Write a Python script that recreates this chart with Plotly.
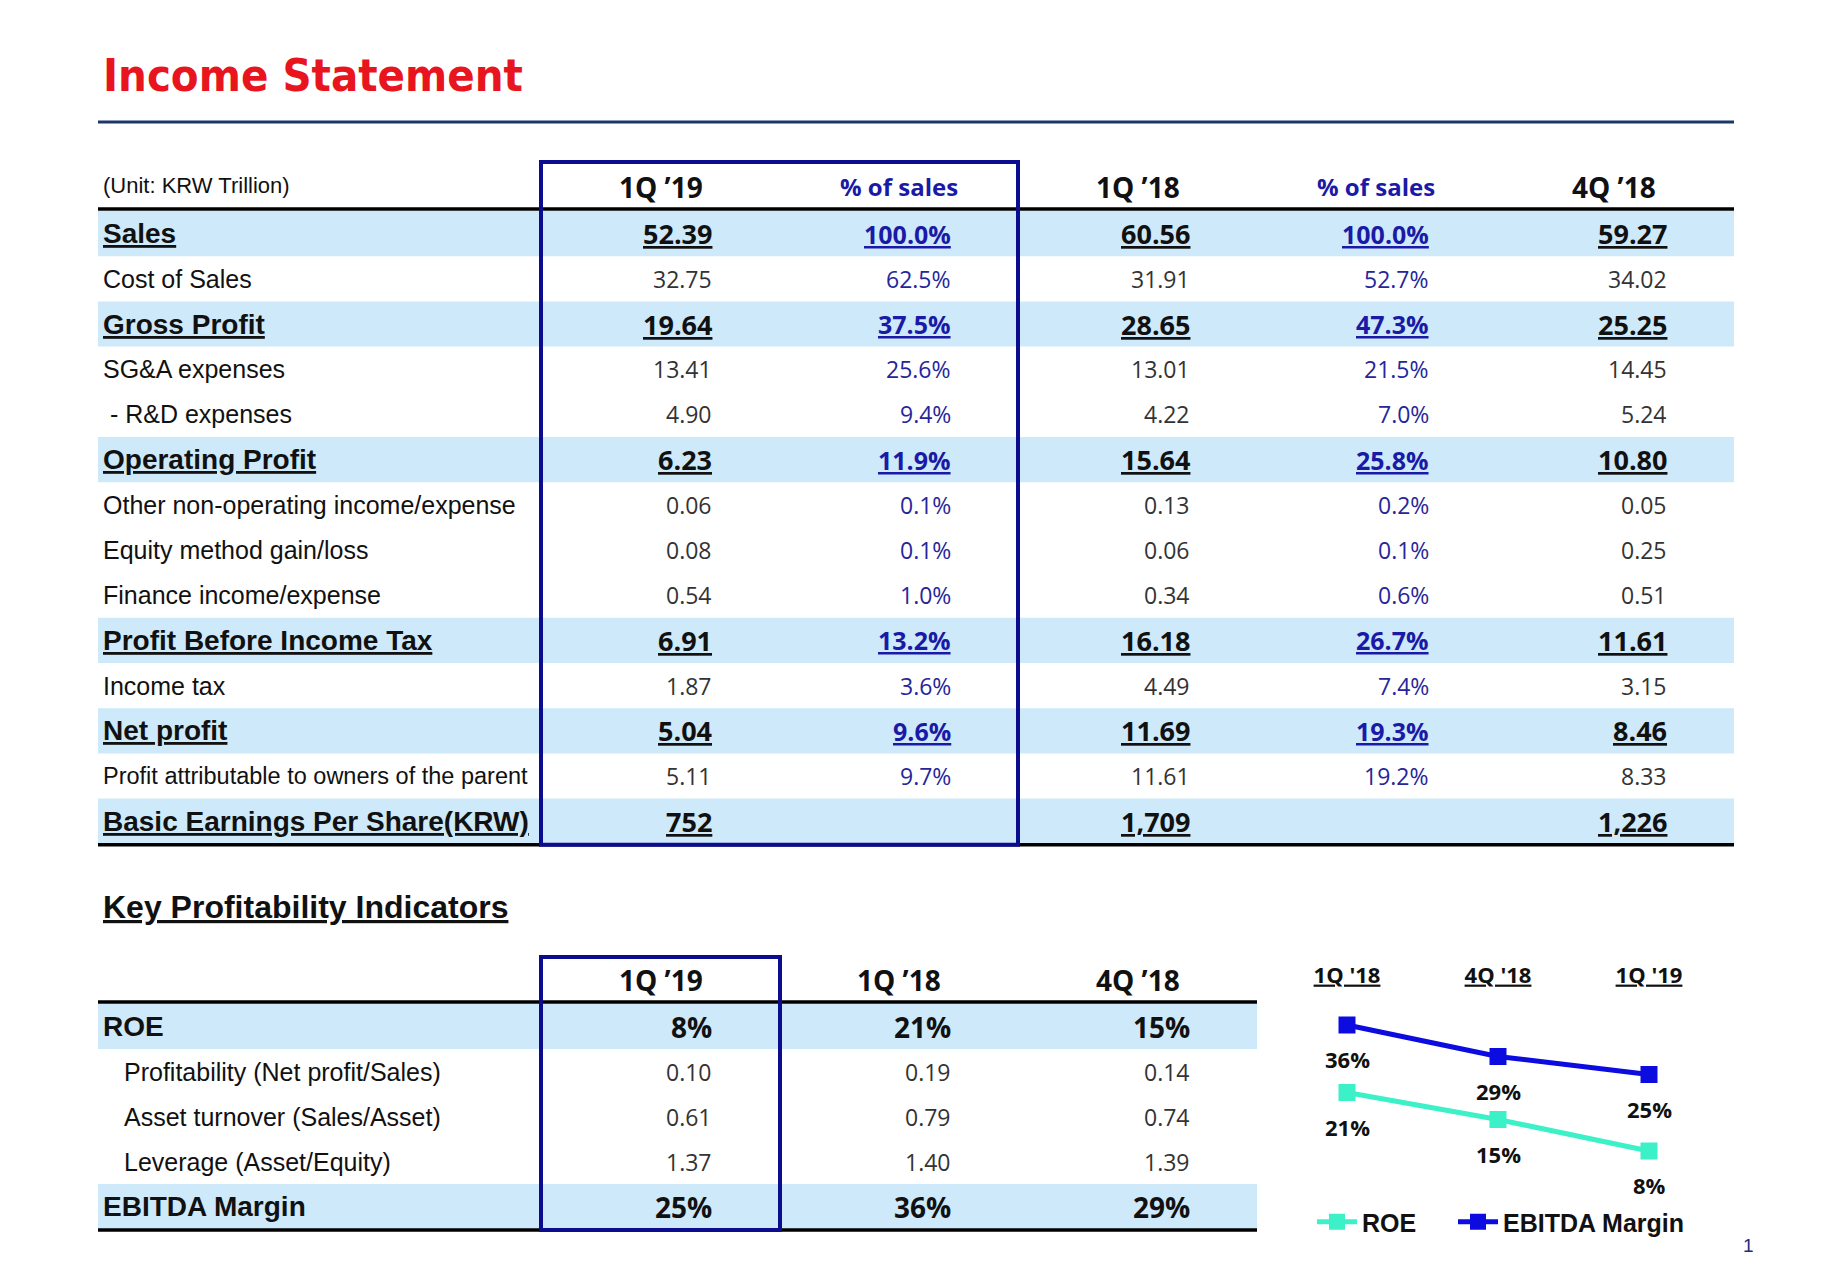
import plotly.graph_objects as go

W, H = 1836, 1277

# ---------------- data ----------------
title_text = "Income Statement"
unit_text = "(Unit: KRW Trillion)"
col_headers = ["1Q \u201919", "% of sales", "1Q \u201918", "% of sales", "4Q \u201918"]

row_labels = [
    "Sales", "Cost of Sales", "Gross Profit", "SG&A expenses", "\u00a0- R&D expenses",
    "Operating Profit", "Other non-operating income/expense", "Equity method gain/loss",
    "Finance income/expense", "Profit Before Income Tax", "Income tax", "Net profit",
    "Profit attributable to owners of the parent", "Basic Earnings Per Share(KRW)",
]
row_is_total = [True, False, True, False, False, True, False, False, False, True, False, True, False, True]

q1_19 = [52.39, 32.75, 19.64, 13.41, 4.90, 6.23, 0.06, 0.08, 0.54, 6.91, 1.87, 5.04, 5.11, 752]
pct_q1_19 = [100.0, 62.5, 37.5, 25.6, 9.4, 11.9, 0.1, 0.1, 1.0, 13.2, 3.6, 9.6, 9.7, None]
q1_18 = [60.56, 31.91, 28.65, 13.01, 4.22, 15.64, 0.13, 0.06, 0.34, 16.18, 4.49, 11.69, 11.61, 1709]
pct_q1_18 = [100.0, 52.7, 47.3, 21.5, 7.0, 25.8, 0.2, 0.1, 0.6, 26.7, 7.4, 19.3, 19.2, None]
q4_18 = [59.27, 34.02, 25.25, 14.45, 5.24, 10.80, 0.05, 0.25, 0.51, 11.61, 3.15, 8.46, 8.33, 1226]
value_formats = ["{:.2f}"] * 13 + ["{:,.0f}"]

kpi_title = "Key Profitability Indicators"
kpi_headers = ["1Q \u201919", "1Q \u201918", "4Q \u201918"]
kpi_labels = ["ROE", "Profitability (Net profit/Sales)", "Asset turnover (Sales/Asset)",
              "Leverage (Asset/Equity)", "EBITDA Margin"]
kpi_is_total = [True, False, False, False, True]
kpi_1q19 = [8, 0.10, 0.61, 1.37, 25]
kpi_1q18 = [21, 0.19, 0.79, 1.40, 36]
kpi_4q18 = [15, 0.14, 0.74, 1.39, 29]
kpi_formats = ["{:.0f}%", "{:.2f}", "{:.2f}", "{:.2f}", "{:.0f}%"]

periods = ["1Q '18", "4Q '18", "1Q '19"]
roe = [21, 15, 8]
ebitda = [36, 29, 25]
page_number = "1"

# ---------------- style ----------------
LABEL_FONT = "Liberation Sans, Arial, sans-serif"
NUM_FONT = "Open Sans, Liberation Sans, sans-serif"
TITLE_FONT = "Noto Sans Condensed, Liberation Sans Narrow, DejaVu Sans Condensed, sans-serif"
RED = "#e8141e"
NAVY_RULE = "#1b3668"
BOX = "#0c0c8e"
BAND = "#cde9fa"
PCT = "#26269a"
PCT_B = "#1a1aa6"
NUM = "#333333"
INK = "#111111"
ROE_C = "#3cf0c8"
EBITDA_C = "#0c0ce0"

T_LEFT, T_RIGHT = 98, 1734
T1_TOP, ROW_H = 211, 45.2
NUM_RIGHT = [714, 953, 1192, 1431, 1669]
HDR_CENTER = [661, 899, 1138, 1376, 1614]
T2_RIGHT, T2_TOP, ROW2_H = 1257, 1004, 45.0
LABEL_X = 101


def X(p):
    return p / W


def Y(p):
    return 1 - p / H


annotations = []
shapes = []


def ann(text, x, y, size, color, family, bold=False, under=False, xanchor="left"):
    font = dict(size=size, color=color, family=family, weight="bold" if bold else "normal")
    if under:
        font["lineposition"] = "under"
    annotations.append(dict(text=text, x=X(x), y=Y(y), xref="paper", yref="paper",
                            xanchor=xanchor, yanchor="middle", showarrow=False, font=font))


def rect(x0, y0, x1, y1, fill=None, line_color=None, lw=0, layer="below"):
    shapes.append(dict(type="rect", xref="paper", yref="paper", x0=X(x0), x1=X(x1),
                       y0=Y(y1), y1=Y(y0), fillcolor=fill if fill else "rgba(0,0,0,0)",
                       line=dict(color=line_color if line_color else "rgba(0,0,0,0)", width=lw),
                       layer=layer))


def hline(x0, x1, y, color, lw):
    shapes.append(dict(type="line", xref="paper", yref="paper", x0=X(x0), x1=X(x1),
                       y0=Y(y), y1=Y(y), line=dict(color=color, width=lw), layer="above"))


# Title + rule
ann(title_text, LABEL_X, 76, 45, RED, TITLE_FONT, bold=True)
hline(T_LEFT, T_RIGHT, 122, NAVY_RULE, 3)

# ---------------- Income statement table ----------------
ann(unit_text, LABEL_X, 185, 22, INK, LABEL_FONT)
for j, h in enumerate(col_headers):
    is_pct = h.startswith("%")
    ann(h, HDR_CENTER[j], 187, 24 if is_pct else 28, PCT_B if is_pct else INK, NUM_FONT,
        bold=True, xanchor="center")

cols = [q1_19, pct_q1_19, q1_18, pct_q1_18, q4_18]
for i, lab in enumerate(row_labels):
    top = T1_TOP + i * ROW_H
    cy = top + ROW_H / 2
    tot = row_is_total[i]
    if tot:
        rect(T_LEFT, top, T_RIGHT, top + ROW_H, fill=BAND)
    lsize = 28 if tot else (23.5 if lab.startswith("Profit attributable") else 25)
    ann(lab, LABEL_X, cy, lsize, INK, LABEL_FONT, bold=tot, under=tot)
    for j, col in enumerate(cols):
        v = col[i]
        if v is None:
            continue
        if j % 2 == 1:
            txt = "{:.1f}%".format(v)
            ann(txt, NUM_RIGHT[j], cy, 25 if tot else 23, PCT_B if tot else PCT, NUM_FONT,
                bold=tot, under=tot, xanchor="right")
        else:
            txt = value_formats[i].format(v)
            ann(txt, NUM_RIGHT[j], cy, 27 if tot else 23, INK if tot else NUM, NUM_FONT,
                bold=tot, under=tot, xanchor="right")

t1_bottom = T1_TOP + len(row_labels) * ROW_H
hline(T_LEFT, T_RIGHT, 209, "#000000", 3.5)
hline(T_LEFT, T_RIGHT, t1_bottom + 1, "#000000", 3.5)
rect(541, 162, 1018, t1_bottom + 1, line_color=BOX, lw=4, layer="above")

# ---------------- KPI table ----------------
ann(kpi_title, LABEL_X, 907, 32, INK, LABEL_FONT, bold=True, under=True)
for j, h in enumerate(kpi_headers):
    ann(h, HDR_CENTER[j], 980, 28, INK, NUM_FONT, bold=True, xanchor="center")

kcols = [kpi_1q19, kpi_1q18, kpi_4q18]
for i, lab in enumerate(kpi_labels):
    top = T2_TOP + i * ROW2_H
    cy = top + ROW2_H / 2
    tot = kpi_is_total[i]
    if tot:
        rect(T_LEFT, top, T2_RIGHT, top + ROW2_H, fill=BAND)
    ann(lab, LABEL_X if tot else 122, cy, 28 if tot else 25, INK, LABEL_FONT, bold=tot)
    for j, col in enumerate(kcols):
        ann(kpi_formats[i].format(col[i]), NUM_RIGHT[j], cy, 28 if tot else 23,
            INK if tot else NUM, NUM_FONT, bold=tot, xanchor="right")

t2_bottom = T2_TOP + len(kpi_labels) * ROW2_H
hline(T_LEFT, T2_RIGHT, 1002, "#000000", 3.5)
hline(T_LEFT, T2_RIGHT, t2_bottom + 1, "#000000", 3.5)
rect(541, 957, 780, t2_bottom + 1, line_color=BOX, lw=4, layer="above")

# ---------------- line chart ----------------
fig = go.Figure()
fig.add_trace(go.Scatter(x=periods, y=roe, name="ROE", mode="lines+markers",
                         line=dict(color=ROE_C, width=5),
                         marker=dict(symbol="square", size=17, color=ROE_C),
                         legend="legend"))
fig.add_trace(go.Scatter(x=periods, y=ebitda, name="EBITDA Margin", mode="lines+markers",
                         line=dict(color=EBITDA_C, width=5),
                         marker=dict(symbol="square", size=17, color=EBITDA_C),
                         legend="legend2"))

for series in (roe, ebitda):
    for p, v in zip(periods, series):
        annotations.append(dict(text="{}%".format(v), x=p, y=v, xref="x", yref="y",
                                yshift=-34, showarrow=False,
                                font=dict(family=NUM_FONT, size=22, color=INK, weight="bold")))

ann(page_number, 1741, 1245, 19, "#1f2a80", LABEL_FONT)

cat_step = 151
x_dom = [1347 - 0.5 * cat_step, 1649 + 0.5 * cat_step]
y_top_px, y_bot_px = 1000, 1200
px_per = 4.5
y_top_val = 36 + (1025 - y_top_px) / px_per
y_bot_val = y_top_val - (y_bot_px - y_top_px) / px_per

legend_style = dict(orientation="h", xanchor="left", yanchor="middle", y=Y(1222),
                    font=dict(family=LABEL_FONT, size=25, color=INK, weight="bold"),
                    bgcolor="rgba(0,0,0,0)", itemwidth=40)

fig.update_layout(
    width=W, height=H,
    margin=dict(l=0, r=0, t=0, b=0),
    paper_bgcolor="white", plot_bgcolor="rgba(0,0,0,0)",
    xaxis=dict(domain=[X(x_dom[0]), X(x_dom[1])], type="category", categoryarray=periods,
               range=[-0.5, 2.5], side="top", showgrid=False, zeroline=False, showline=False,
               ticks="", ticklabelstandoff=12,
               tickfont=dict(family=NUM_FONT, size=22, color=INK, weight="bold",
                             lineposition="under"), fixedrange=True),
    yaxis=dict(domain=[Y(y_bot_px), Y(y_top_px)], range=[y_bot_val, y_top_val], visible=False,
               fixedrange=True),
    showlegend=True,
    legend=dict(x=X(1312), **legend_style),
    legend2=dict(x=X(1453), **legend_style),
    annotations=annotations,
    shapes=shapes,
)

fig.write_html("out.html", config={"displayModeBar": False},
               post_script="document.body.style.margin='0';document.body.style.overflow='hidden';")
